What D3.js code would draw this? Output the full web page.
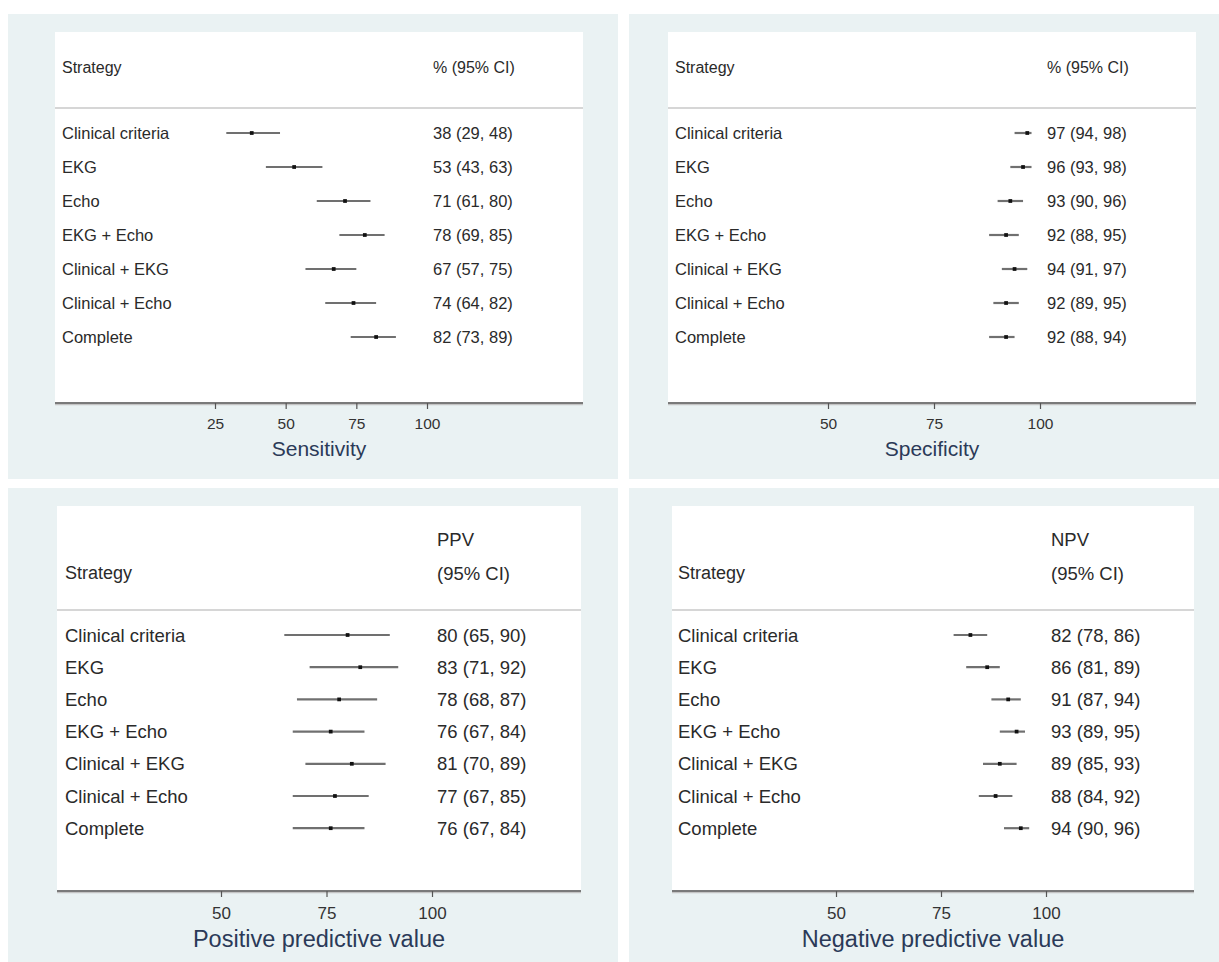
<!DOCTYPE html>
<html>
<head>
<meta charset="utf-8">
<script src="https://cdn.jsdelivr.net/npm/d3@7"></script>
<style>
  html, body { margin: 0; padding: 0; background: #ffffff; }
  svg { display: block; }
  text { font-family: "Liberation Sans", Arial, sans-serif; }
</style>
</head>
<body>
<svg id="chart" width="1219" height="962"></svg>
<script>
// ---------------- DATA ----------------
const strategies = ["Clinical criteria", "EKG", "Echo", "EKG + Echo", "Clinical + EKG", "Clinical + Echo", "Complete"];

const sensEst = [38, 53, 71, 78, 67, 74, 82];
const sensLo  = [29, 43, 61, 69, 57, 64, 73];
const sensHi  = [48, 63, 80, 85, 75, 82, 89];

const specEst = [97, 96, 93, 92, 94, 92, 92];
const specLo  = [94, 93, 90, 88, 91, 89, 88];
const specHi  = [98, 98, 96, 95, 97, 95, 94];

const ppvEst = [80, 83, 78, 76, 81, 77, 76];
const ppvLo  = [65, 71, 68, 67, 70, 67, 67];
const ppvHi  = [90, 92, 87, 84, 89, 85, 84];

const npvEst = [82, 86, 91, 93, 89, 88, 94];
const npvLo  = [78, 81, 87, 89, 85, 84, 90];
const npvHi  = [86, 89, 94, 95, 93, 92, 96];

const sensTicks = [25, 50, 75, 100];
const specTicks = [50, 75, 100];
const ppvTicks  = [50, 75, 100];
const npvTicks  = [50, 75, 100];

const titles = ["Sensitivity", "Specificity", "Positive predictive value", "Negative predictive value"];
const headerLabel = "Strategy";
const valueHeaders = [["% (95% CI)"], ["% (95% CI)"], ["PPV", "(95% CI)"], ["NPV", "(95% CI)"]];

// ---------------- LAYOUT ----------------
const svg = d3.select("#chart");

const layouts = [
  { bg:[8,14,610,465],  white:[55,32,528,371],  sep:108, labelX:62,  valueX:433,  head1Y:null, headY:67,
    rowY0:133, rowStep:34, fs:16.5, tickFs:15.5, titleFs:21, scaleRange:[215,427], ticksDom:[25,100],
    tickY:423, titleY:448 },
  { bg:[629,14,590,465], white:[668,32,528,371], sep:108, labelX:675, valueX:1047, head1Y:null, headY:67,
    rowY0:133, rowStep:34, fs:16.5, tickFs:15.5, titleFs:21, scaleRange:[828,1040], ticksDom:[50,100],
    tickY:423, titleY:448 },
  { bg:[8,488,610,474], white:[57,506,524,385], sep:610, labelX:65,  valueX:437,  head1Y:539, headY:573,
    rowY0:635, rowStep:32.2, fs:18.5, tickFs:17, titleFs:23.5, scaleRange:[221,432], ticksDom:[50,100],
    tickY:913, titleY:939 },
  { bg:[629,488,590,474], white:[672,506,522,385], sep:610, labelX:678, valueX:1051, head1Y:539, headY:573,
    rowY0:635, rowStep:32.2, fs:18.5, tickFs:17, titleFs:23.5, scaleRange:[836,1046], ticksDom:[50,100],
    tickY:913, titleY:939 }
];

const panelData = [
  { est: sensEst, lo: sensLo, hi: sensHi, ticks: sensTicks },
  { est: specEst, lo: specLo, hi: specHi, ticks: specTicks },
  { est: ppvEst,  lo: ppvLo,  hi: ppvHi,  ticks: ppvTicks },
  { est: npvEst,  lo: npvLo,  hi: npvHi,  ticks: npvTicks }
];

const textColor = "#2a2a2a";
const titleColor = "#2b3a58";

panelData.forEach((pd, pi) => {
  const L = layouts[pi];
  const g = svg.append("g");

  g.append("rect").attr("x", L.bg[0]).attr("y", L.bg[1]).attr("width", L.bg[2]).attr("height", L.bg[3])
    .attr("fill", "#eaf2f3");
  g.append("rect").attr("x", L.white[0]).attr("y", L.white[1]).attr("width", L.white[2]).attr("height", L.white[3])
    .attr("fill", "#ffffff");

  const xL = L.white[0], xR = L.white[0] + L.white[2];
  const axisY = L.white[1] + L.white[3];

  g.append("line").attr("x1", xL).attr("x2", xR).attr("y1", L.sep).attr("y2", L.sep)
    .attr("stroke", "#d6d6d6").attr("stroke-width", 2);

  const x = d3.scaleLinear().domain(L.ticksDom).range(L.scaleRange);
  const y = d3.scaleLinear().domain([0, 1]).range([L.rowY0, L.rowY0 + L.rowStep]);

  g.append("text").attr("x", L.labelX).attr("y", L.headY).attr("dominant-baseline", "central")
    .attr("font-size", L.fs - 0.5).attr("fill", textColor).text(headerLabel);
  const vh = valueHeaders[pi];
  if (vh.length === 1) {
    g.append("text").attr("x", L.valueX).attr("y", L.headY).attr("dominant-baseline", "central")
      .attr("font-size", L.fs - 0.5).attr("fill", textColor).text(vh[0]);
  } else {
    g.append("text").attr("x", L.valueX).attr("y", L.head1Y).attr("dominant-baseline", "central")
      .attr("font-size", L.fs).attr("fill", textColor).text(vh[0]);
    g.append("text").attr("x", L.valueX).attr("y", L.headY).attr("dominant-baseline", "central")
      .attr("font-size", L.fs).attr("fill", textColor).text(vh[1]);
  }

  const rows = strategies.map((s, i) => ({ name: s, est: pd.est[i], lo: pd.lo[i], hi: pd.hi[i], i }));

  g.selectAll("text.lab").data(rows).join("text").attr("class", "lab")
    .attr("x", L.labelX).attr("y", d => y(d.i)).attr("dominant-baseline", "central")
    .attr("font-size", L.fs).attr("fill", textColor).text(d => d.name);

  g.selectAll("text.val").data(rows).join("text").attr("class", "val")
    .attr("x", L.valueX).attr("y", d => y(d.i)).attr("dominant-baseline", "central")
    .attr("font-size", L.fs).attr("fill", textColor)
    .text(d => `${d.est} (${d.lo}, ${d.hi})`);

  g.selectAll("line.ci").data(rows).join("line").attr("class", "ci")
    .attr("x1", d => x(d.lo)).attr("x2", d => x(d.hi))
    .attr("y1", d => y(d.i)).attr("y2", d => y(d.i))
    .attr("stroke", "#707070").attr("stroke-width", 2.2);

  g.selectAll("path.pt").data(rows).join("path").attr("class", "pt")
    .attr("transform", d => `translate(${x(d.est)},${y(d.i)})`)
    .attr("d", d3.symbol().type(d3.symbolSquare).size(14)())
    .attr("fill", "#111");

  g.append("line").attr("x1", xL).attr("x2", xR).attr("y1", axisY + 1.5).attr("y2", axisY + 1.5)
    .attr("stroke", "#c4c4c4").attr("stroke-width", 1.5);
  g.append("line").attr("x1", xL).attr("x2", xR).attr("y1", axisY).attr("y2", axisY)
    .attr("stroke", "#7a7a7a").attr("stroke-width", 2);

  const axis = d3.axisBottom(x).tickValues(pd.ticks).tickSize(6).tickPadding(0).tickFormat(d3.format("d"));
  const ag = g.append("g").attr("transform", `translate(0,${axisY})`).call(axis);
  ag.select(".domain").remove();
  ag.selectAll(".tick line").attr("stroke", "#555").attr("stroke-width", 1.2);
  ag.selectAll(".tick text")
    .attr("y", L.tickY - axisY).attr("dy", null).attr("dominant-baseline", "central")
    .attr("font-size", L.tickFs).attr("font-family", "Liberation Sans, Arial, sans-serif")
    .attr("fill", "#333");

  g.append("text").attr("x", (xL + xR) / 2).attr("y", L.titleY).attr("text-anchor", "middle")
    .attr("dominant-baseline", "central").attr("font-size", L.titleFs).attr("fill", titleColor)
    .text(titles[pi]);
});
</script>
</body>
</html>
